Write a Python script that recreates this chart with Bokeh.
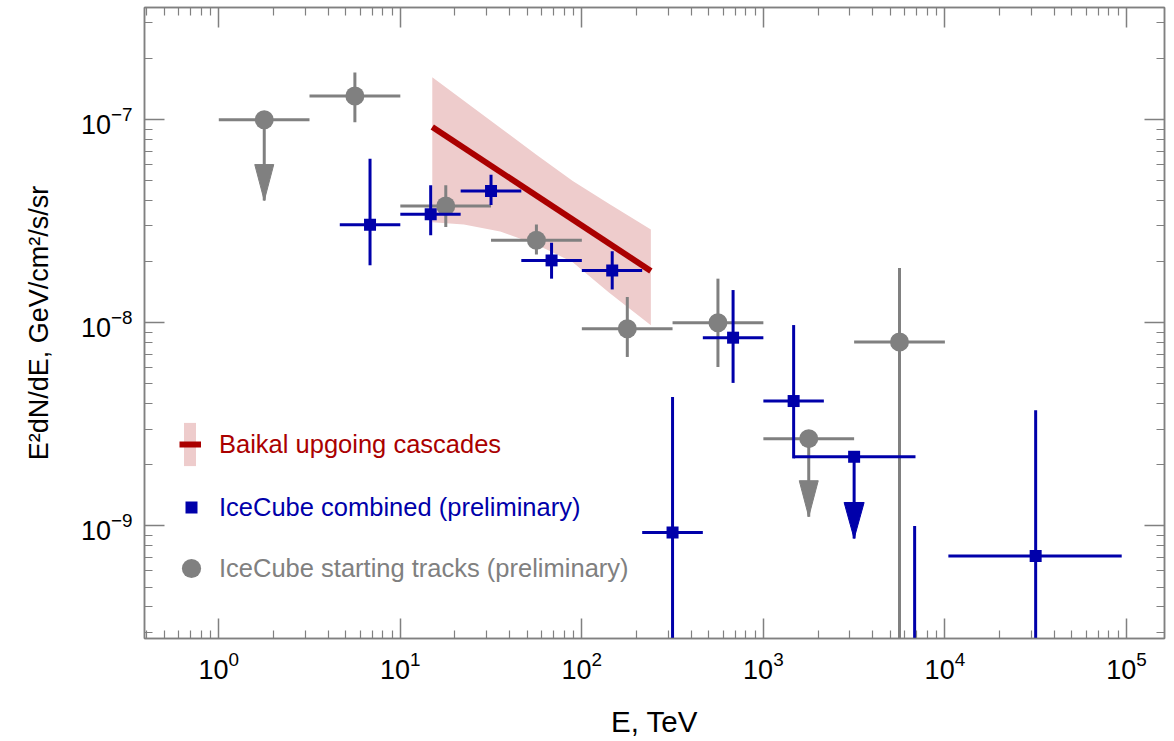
import math
from bokeh.plotting import figure
from bokeh.models import (LogAxis, FixedTicker, LogTickFormatter, Legend, LegendItem,
                          CustomJSTickFormatter, Range1d)
from bokeh.embed import file_html
from bokeh.resources import INLINE

# ---------------- data ----------------
# Baikal upgoing cascades: best-fit power law and its uncertainty band
baikal_x = [15.0, 240.0]
baikal_y = [9.2e-8, 1.8e-8]
band_x = [15.0, 22.4, 35.5, 56.2, 89.1, 141.0, 240.0]
band_hi = [1.62e-7, 1.24e-7, 9.14e-8, 6.73e-8, 4.99e-8, 3.86e-8, 2.88e-8]
band_lo = [3.13e-8, 3.05e-8, 2.82e-8, 2.43e-8, 1.99e-8, 1.41e-8, 9.73e-9]

# IceCube combined (preliminary)
ic_x = [6.81, 14.7, 31.6, 68.1, 147.0, 316.0, 681.0, 1468.0, 6813.0, 31623.0]
ic_xlo = [4.64, 10.0, 21.5, 46.4, 100.0, 215.0, 464.0, 1000.0, 4642.0, 10450.0]
ic_xhi = [10.0, 21.5, 46.4, 100.0, 215.0, 464.0, 1000.0, 2154.0, 10000.0, 94200.0]
ic_y = [3.04e-8, 3.42e-8, 4.46e-8, 2.03e-8, 1.81e-8, 9.28e-10, 8.45e-9, 4.12e-9, 1.5e-10, 7.1e-10]
ic_ylo = [1.92e-8, 2.70e-8, 3.8e-8, 1.65e-8, 1.46e-8, 1e-12, 5.06e-9, 2.15e-9, 1e-12, 1e-12]
ic_yhi = [6.43e-8, 4.76e-8, 5.36e-8, 2.48e-8, 2.25e-8, 4.31e-9, 1.45e-8, 9.75e-9, 1.0e-9, 3.71e-9]
# IceCube combined upper limit
icul_x = [3162.0]
icul_xlo = [1468.0]
icul_xhi = [6887.0]
icul_y = [2.19e-9]
icul_tip = [8.67e-10]

# IceCube starting tracks (preliminary)
st_x = [5.62, 17.8, 56.2, 178.0, 562.0, 5623.0]
st_xlo = [3.16, 10.0, 31.6, 100.0, 316.0, 3162.0]
st_xhi = [10.0, 31.6, 100.0, 316.0, 1000.0, 10000.0]
st_y = [1.31e-7, 3.76e-8, 2.55e-8, 9.35e-9, 1.0e-8, 8.05e-9]
st_ylo = [9.73e-8, 2.96e-8, 2.17e-8, 6.79e-9, 6.06e-9, 1e-12]
st_yhi = [1.71e-7, 4.76e-8, 3.05e-8, 1.34e-8, 1.65e-8, 1.86e-8]
# starting tracks upper limits
stul_x = [1.78, 1778.0]
stul_xlo = [1.0, 1000.0]
stul_xhi = [3.16, 3162.0]
stul_y = [1.0e-7, 2.69e-9]
stul_tip = [4.0e-8, 1.11e-9]

# axis ticks
x_major = [1, 10, 100, 1e3, 1e4, 1e5]
y_major = [1e-9, 1e-8, 1e-7]
x_minor = [m * 10.0 ** k for k in range(-1, 6) for m in range(2, 10)]
y_minor = [m * 10.0 ** k for k in range(-10, -6) for m in range(2, 10)]

labels = ["Baikal upgoing cascades", "IceCube combined (preliminary)",
          "IceCube starting tracks (preliminary)"]

# ---------------- styling ----------------
RED = "#AA0000"
BAND = "#EECCCC"
CAP = "#D98A8A"
BLUE = "#0000AA"
GRAY = "#808080"
FRAME = "#808080"
FONT = "Liberation Sans"

X0, X1 = 0.3897, 1.621e5
Y0, Y1 = 2.79e-10, 3.57e-7
FW, FH = 1020, 631

p = figure(x_axis_type="log", y_axis_type="log",
           x_range=Range1d(X0, X1), y_range=Range1d(Y0, Y1),
           frame_width=FW, frame_height=FH,
           min_border_left=144, min_border_right=2, min_border_top=7, min_border_bottom=95,
           output_backend="svg", toolbar_location=None)
p.grid.visible = False
p.outline_line_color = FRAME
p.outline_line_width = 1.5
p.background_fill_color = "white"
p.border_fill_color = "white"

xt = FixedTicker(ticks=x_major, minor_ticks=x_minor)
yt = FixedTicker(ticks=y_major, minor_ticks=y_minor)


def style_axis(ax, labels_on, label_size="27px"):
    ax.axis_line_color = FRAME
    ax.axis_line_width = 1.5
    ax.major_tick_line_color = FRAME
    ax.minor_tick_line_color = FRAME
    ax.major_tick_line_width = 1.5
    ax.minor_tick_line_width = 1.2
    ax.major_tick_in = 20
    ax.major_tick_out = 0
    ax.minor_tick_in = 8
    ax.minor_tick_out = 0
    if labels_on:
        ax.major_label_text_font = FONT
        ax.major_label_text_font_size = "27px"
        ax.major_label_text_color = "black"
        ax.major_label_standoff = 12
        ax.axis_label_text_font = FONT
        ax.axis_label_text_font_size = label_size
        ax.axis_label_text_font_style = "normal"
        ax.axis_label_text_color = "black"
    else:
        ax.major_label_text_font_size = "0px"
        ax.major_label_standoff = 0
        ax.formatter = CustomJSTickFormatter(code="return ''")


xa = p.xaxis[0]
xa.ticker = xt
xa.formatter = LogTickFormatter()
xa.axis_label = "E, TeV"
style_axis(xa, True, "29.5px")
xa.axis_label_standoff = 23

ya = p.yaxis[0]
ya.ticker = yt
ya.formatter = LogTickFormatter()
ya.axis_label = "E²dN/dE, GeV/cm²/s/sr"
style_axis(ya, True, "27px")
ya.axis_label_standoff = 24

top = LogAxis(ticker=xt)
style_axis(top, False)
p.add_layout(top, "above")
right = LogAxis(ticker=yt)
style_axis(right, False)
p.add_layout(right, "right")

# pixel -> decade conversion (for arrow heads sized in pixels)
dpx = (math.log10(X1) - math.log10(X0)) / FW
dpy = (math.log10(Y1) - math.log10(Y0)) / FH


def heads(xs, tips, L, W):
    hx = 10 ** (W / 2 * dpx)
    hy = 10 ** (L * dpy)
    pxs = [[x / hx, x * hx, x] for x in xs]
    pys = [[t * hy, t * hy, t] for t in tips]
    return pxs, pys


# ---------------- Baikal band ----------------
band_r = p.varea(x=band_x, y1=band_lo, y2=band_hi, fill_color=BAND, fill_alpha=1.0)

# ---------------- IceCube starting tracks (gray) ----------------
EW = 3
p.segment(x0=st_xlo, y0=st_y, x1=st_xhi, y1=st_y, line_color=GRAY, line_width=EW)
p.segment(x0=st_x, y0=st_ylo, x1=st_x, y1=st_yhi, line_color=GRAY, line_width=EW)
p.segment(x0=stul_xlo, y0=stul_y, x1=stul_xhi, y1=stul_y, line_color=GRAY, line_width=EW)
p.segment(x0=stul_x, y0=stul_y, x1=stul_x, y1=stul_tip, line_color=GRAY, line_width=EW)
gxs, gys = heads(stul_x, stul_tip, 36, 19)
p.patches(xs=gxs, ys=gys, fill_color=GRAY, line_color=GRAY, line_width=1)
st_r = p.scatter(x=st_x + stul_x, y=st_y + stul_y, marker="circle", size=19,
                 fill_color=GRAY, line_color=None)

# ---------------- IceCube combined (blue) ----------------
p.segment(x0=ic_xlo, y0=ic_y, x1=ic_xhi, y1=ic_y, line_color=BLUE, line_width=EW)
p.segment(x0=ic_x, y0=ic_ylo, x1=ic_x, y1=ic_yhi, line_color=BLUE, line_width=EW)
p.segment(x0=icul_xlo, y0=icul_y, x1=icul_xhi, y1=icul_y, line_color=BLUE, line_width=EW)
p.segment(x0=icul_x, y0=icul_y, x1=icul_x, y1=icul_tip, line_color=BLUE, line_width=EW)
bxs, bys = heads(icul_x, icul_tip, 36, 20)
p.patches(xs=bxs, ys=bys, fill_color=BLUE, line_color=BLUE, line_width=1)
ic_r = p.scatter(x=ic_x + icul_x, y=ic_y + icul_y, marker="square", size=12,
                 fill_color=BLUE, line_color=None)

# ---------------- Baikal best fit ----------------
line_r = p.line(x=baikal_x, y=baikal_y, line_color=RED, line_width=6)

# empty renderer used only for the caps of the band swatch in the legend
cap_r = p.line(x=[], y=[], line_color=CAP, line_width=1.5)


# ---------------- legends ----------------
def add_legend(item_renderers, label, color, loc, gw, gh, standoff,
               size="25.5px", lh=20):
    lg = Legend(items=[LegendItem(label=label, renderers=item_renderers)],
                location=loc, orientation="vertical",
                glyph_width=gw, glyph_height=gh, label_standoff=standoff,
                label_text_font=FONT, label_text_font_size=size, label_height=lh,
                label_text_color=color, padding=0, margin=0, spacing=0,
                border_line_color=None, background_fill_alpha=0)
    p.add_layout(lg, "center")


# band swatch (narrower than the line) with thin caps
add_legend([band_r], " ", BAND, (38, 167), 15, 54, 0)
add_legend([cap_r], " ", CAP, (38, 219), 15, 2, 0, "1px", 2)
add_legend([cap_r], " ", CAP, (38, 166), 15, 2, 0, "1px", 2)
add_legend([line_r], labels[0], RED, (35, 167), 22, 54, 18)
add_legend([ic_r], labels[1], BLUE, (32, 116), 30, 30, 13)
add_legend([st_r], labels[2], GRAY, (23, 46), 48, 48, 4)

open("out.html", "w").write(file_html(p, INLINE))
